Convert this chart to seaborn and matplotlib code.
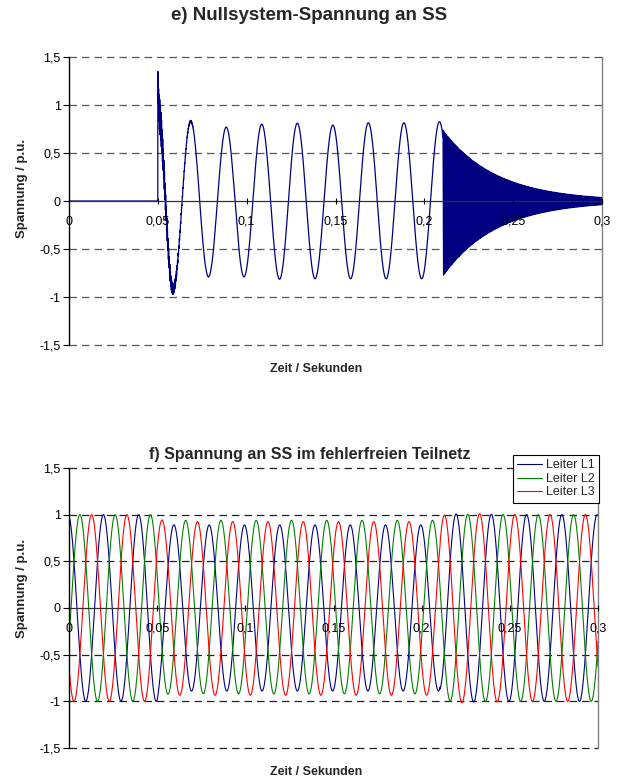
import numpy as np
import pandas as pd
import matplotlib
matplotlib.use("Agg")
import matplotlib.pyplot as plt
import seaborn as sns

# ---- values ----
t_end = 0.3
f_net = 50.0          # Hz
t_fault = 0.05        # fault inception
t_clear = 0.2105      # fault cleared

# e) zero-sequence voltage: extrema of the 50 Hz part (time in s, value in p.u.)
u0_ext_t = [0.05, 0.0585, 0.0685, 0.0785, 0.0885, 0.0985, 0.1085, 0.1185, 0.1285,
            0.1385, 0.1485, 0.1585, 0.1685, 0.1785, 0.1885, 0.1985, 0.2085, 0.2185]
u0_ext_v = [0.95, -0.92, 0.83, -0.79, 0.77, -0.79, 0.80, -0.815, 0.81,
            -0.81, 0.79, -0.81, 0.815, -0.81, 0.815, -0.81, 0.825, -0.81]
u0_spike = 1.35                  # first peak at fault inception
u0_ripple = [0.22, 0.006, 3000]  # amplitude, decay time, frequency of the ripple after inception
u0_hf = [0.76, 0.03, 1500]       # amplitude, decay time, frequency of the oscillation after clearing

# f) phase voltages in the healthy subnetwork
leiter = ["Leiter L1", "Leiter L2", "Leiter L3"]
farben = ["#000080", "#008000", "#FF0000"]
phase_deg = [9, -111, 129]
amp_pre = [1.0, 1.0, 1.0]
amp_fault = [0.89, 0.93, 0.93]
amp_post = [1.0, 1.0, 1.0]
overshoot_post = [0.02, 0.01, 0.03]
offset_fault = [0.0, 0.01, -0.005]

yticks = [-1.5, -1, -0.5, 0, 0.5, 1, 1.5]
ylabels = ["-1,5", "-1", "-0,5", "0", "0,5", "1", "1,5"]
xticks = [0, 0.05, 0.1, 0.15, 0.2, 0.25, 0.3]
xlabels = ["0", "0,05", "0,1", "0,15", "0,2", "0,25", "0,3"]

# ---- build the waveforms ----
dt = 2e-5
t = np.arange(0, t_end + dt / 2, dt)

# zero sequence: half-cosine between the read extrema
ext_t = np.array(u0_ext_t)
ext_v = np.array(u0_ext_v)
u0 = np.zeros_like(t)
m = t >= t_fault
idx = np.clip(np.searchsorted(ext_t, t[m], side="right") - 1, 0, len(ext_t) - 2)
t0, t1 = ext_t[idx], ext_t[idx + 1]
v0, v1 = ext_v[idx], ext_v[idx + 1]
u0[m] = (v0 + v1) / 2 + (v0 - v1) / 2 * np.cos(np.pi * (t[m] - t0) / (t1 - t0))
tau = t[m] - t_fault
u0[m] += (u0_spike - ext_v[0]) * np.exp(-tau / 0.0003)
u0[m] += u0_ripple[0] * np.exp(-tau / u0_ripple[1]) * np.sin(2 * np.pi * u0_ripple[2] * tau) \
    * (1 - np.exp(-tau / 0.0004))
mc = t >= t_clear
tc = t[mc] - t_clear
env = u0_hf[0] * np.exp(-tc / u0_hf[1])
u0[mc] = env * np.cos(2 * np.pi * u0_hf[2] * tc) - 0.03 * env

# phase voltages
rows = []
for i, name in enumerate(leiter):
    a = np.full_like(t, amp_pre[i])
    mf = (t >= t_fault) & (t < t_clear)
    a[mf] = amp_pre[i] + (amp_fault[i] - amp_pre[i]) * (1 - np.exp(-(t[mf] - t_fault) / 0.002))
    mp = t >= t_clear
    tp = t[mp] - t_clear
    a[mp] = (amp_post[i] + overshoot_post[i] * np.exp(-tp / 0.02)
             + (amp_fault[i] - amp_post[i]) * np.exp(-tp / 0.003))
    off = np.where(mf, offset_fault[i], 0.0)
    u = a * np.cos(2 * np.pi * f_net * t + np.radians(phase_deg[i])) + off
    rows.append(pd.DataFrame({"Zeit": t, "Spannung": u, "Leiter": name}))
df_phase = pd.concat(rows, ignore_index=True)
df_null = pd.DataFrame({"Zeit": t, "Spannung": u0})

# ---- plotting ----
sns.set_style("white")
plt.rcParams["font.family"] = ["Liberation Sans", "DejaVu Sans"]

fig = plt.figure(figsize=(6.17, 7.83), dpi=100)
ax1 = fig.add_axes([69 / 617, 1 - 345 / 783, (602 - 69) / 617, (345 - 57) / 783])
ax2 = fig.add_axes([69 / 617, 1 - 748 / 783, (598 - 69) / 617, (748 - 468) / 783])


def excel_axes(ax, grid_color):
    ax.set_xlim(0, 0.3)
    ax.set_ylim(-1.5, 1.5)
    ax.set_yticks(yticks)
    ax.set_yticklabels(ylabels)
    ax.set_xticks(xticks)
    ax.set_xticklabels(xlabels)
    ax.set_axisbelow(False)  # tick labels stay readable over the curves
    ax.spines["bottom"].set_position(("data", 0))
    ax.spines["bottom"].set_color("#303030")
    ax.spines["bottom"].set_linewidth(0.9)
    ax.spines["top"].set_visible(False)
    ax.spines["right"].set_color("#808080")
    ax.spines["right"].set_linewidth(1.0)
    ax.spines["left"].set_color("black")
    ax.spines["left"].set_linewidth(1.0)
    for y in yticks:
        if y != 0:
            ax.axhline(y, color=grid_color, ls=(0, (6, 4)), lw=0.9, zorder=0.5, clip_on=False)
    ax.tick_params(axis="y", direction="out", length=4, width=0.8, labelsize=9,
                   colors="black", left=True, pad=2)
    ax.tick_params(axis="x", direction="inout", length=5, width=0.8, labelsize=9,
                   colors="black", bottom=True, pad=8)
    ax.set_xlabel("")
    ax.set_ylabel("")


sns.lineplot(data=df_null, x="Zeit", y="Spannung", color="#000080", linewidth=0.9,
             estimator=None, ax=ax1)
excel_axes(ax1, "#555555")

sns.lineplot(data=df_phase, x="Zeit", y="Spannung", hue="Leiter", palette=farben,
             linewidth=0.8, estimator=None, ax=ax2)
excel_axes(ax2, "#222222")
leg = ax2.legend(loc="upper right", bbox_to_anchor=(599 / 617, 1 - 455 / 783),
                 bbox_transform=fig.transFigure, borderaxespad=0, fontsize=9,
                 frameon=True, fancybox=False, framealpha=1, edgecolor="black",
                 handlelength=2.0, labelspacing=0.12, borderpad=0.35, handletextpad=0.3)
leg.get_frame().set_linewidth(0.8)
leg.set_zorder(5)

# titles and axis labels
fig.text(309 / 617, 1 - 16 / 783, "e) Nullsystem-Spannung an SS", ha="center", va="center",
         fontsize=13.5, fontweight="bold")
fig.text(310 / 617, 1 - 454 / 783, "f) Spannung an SS im fehlerfreien Teilnetz", ha="center",
         va="center", fontsize=11.5, fontweight="bold")
fig.text(316 / 617, 1 - 369 / 783, "Zeit / Sekunden", ha="center", va="center",
         fontsize=9, fontweight="bold")
fig.text(316 / 617, 1 - 772 / 783, "Zeit / Sekunden", ha="center", va="center",
         fontsize=9, fontweight="bold")
fig.text(22 / 617, 1 - 188 / 783, "Spannung / p.u.", ha="center", va="center",
         rotation=90, fontsize=9.5, fontweight="bold")
fig.text(22 / 617, 1 - 588 / 783, "Spannung / p.u.", ha="center", va="center",
         rotation=90, fontsize=9.5, fontweight="bold")

fig.savefig("out.png", dpi=100)
